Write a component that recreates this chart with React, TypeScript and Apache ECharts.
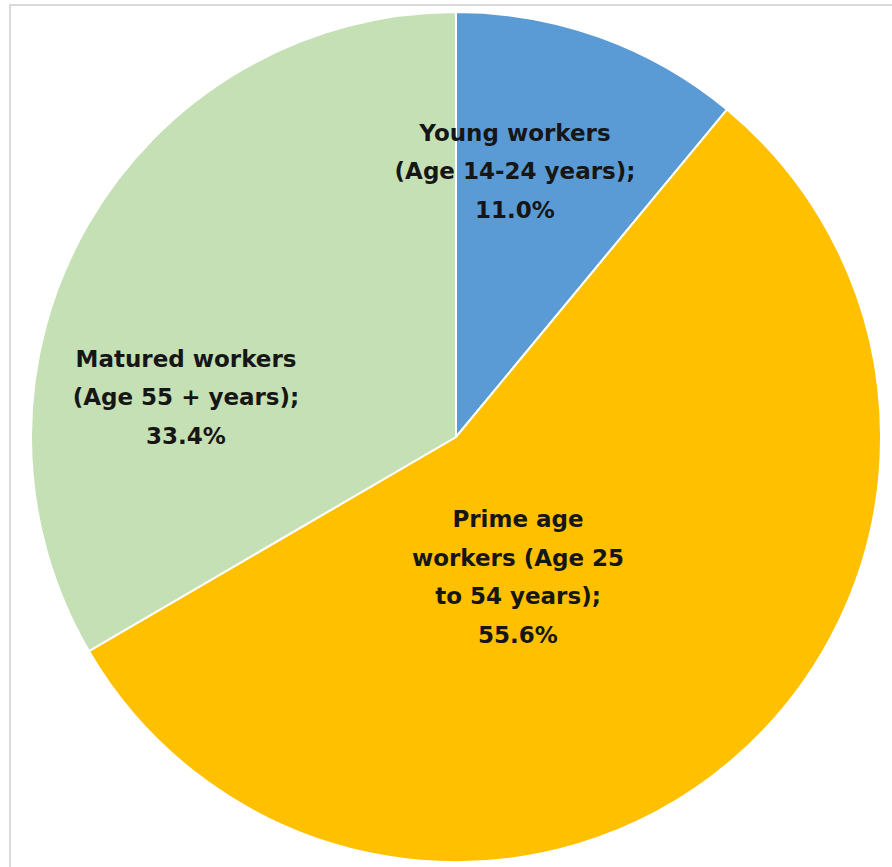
import React, { useEffect, useRef } from "react";
import * as echarts from "echarts";

const categories = [
  "Young workers (Age 14-24 years)",
  "Prime age workers (Age 25 to 54 years)",
  "Matured workers (Age 55 + years)",
];
const labelLines = [
  ["Young workers", "(Age 14-24 years);"],
  ["Prime age", "workers (Age 25", "to 54 years);"],
  ["Matured workers", "(Age 55 + years);"],
];
const values = [11.0, 55.6, 33.4];
const colors = ["#5B9BD5", "#FFC000", "#C5E0B4"];

const labelPos: [number, number][] = [
  [515, 171],
  [518, 577],
  [186, 397],
];

export default function App() {
  const ref = useRef<HTMLDivElement>(null);
  useEffect(() => {
    document.body.style.margin = "0";
    const chart = echarts.init(ref.current!, null, { renderer: "svg" });
    chart.setOption({
      animation: false,
      backgroundColor: "#ffffff",
      graphic: [
        {
          type: "rect",
          shape: { x: 10, y: 5, width: 900, height: 900 },
          style: { fill: "none", stroke: "#d9d9d9", lineWidth: 2 },
          z: 0,
        },
      ],
      series: [
        {
          type: "pie",
          center: [456, 437],
          radius: 425,
          startAngle: 90,
          clockwise: true,
          avoidLabelOverlap: false,
          itemStyle: { borderColor: "#ffffff", borderWidth: 2 },
          label: {
            show: true,
            position: "inside",
            color: "#161616",
            fontFamily: "DejaVu Sans",
            fontWeight: "bold",
            fontSize: 23,
            lineHeight: 38.5,
            align: "center",
            formatter: (p: any) =>
              labelLines[p.dataIndex].join("\n") + "\n" + Number(p.value).toFixed(1) + "%",
          },
          labelLine: { show: false },
          labelLayout: (p: any) => ({
            x: labelPos[p.dataIndex][0],
            y: labelPos[p.dataIndex][1],
            align: "center",
            verticalAlign: "middle",
          }),
          data: categories.map((c, i) => ({
            name: c,
            value: values[i],
            itemStyle: { color: colors[i] },
          })),
        },
      ],
    });
    return () => chart.dispose();
  }, []);
  return (
    <div
      ref={ref}
      style={{ position: "fixed", left: 0, top: 0, width: 892, height: 867 }}
    />
  );
}
